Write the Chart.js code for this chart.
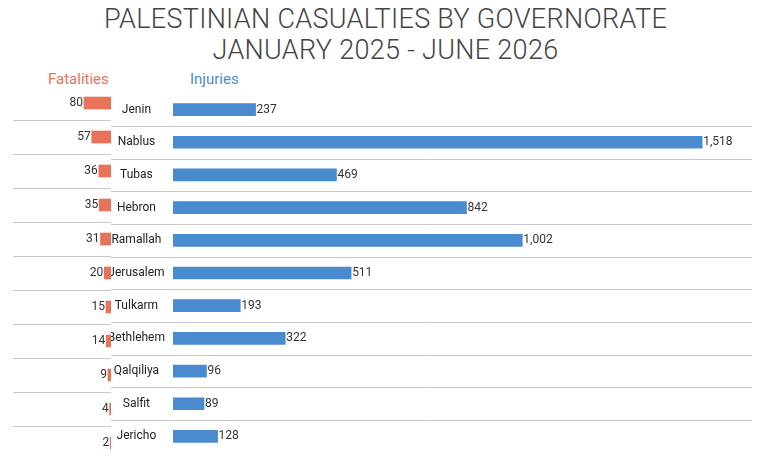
<!DOCTYPE html>
<html><head><meta charset="utf-8">
<script src="https://cdn.jsdelivr.net/npm/chart.js@4/dist/chart.umd.min.js"></script>
<style>
body{margin:0;background:#fff;width:771px;height:465px;position:relative;overflow:hidden;font-family:Roboto,sans-serif}
#t{position:absolute;left:0;width:771px;top:4px;text-align:center;font-size:27px;line-height:31px;color:#444;font-weight:300;letter-spacing:0.3px}
.h{position:absolute;top:70px;font-size:15px}
#l{position:absolute;left:13px;top:86px}
#r{position:absolute;left:111px;top:86px}
</style></head><body>
<div id="t">PALESTINIAN CASUALTIES BY GOVERNORATE<br>JANUARY 2025 - JUNE 2026</div>
<div class="h" style="left:48px;color:#E8735A">Fatalities</div>
<div class="h" style="left:190px;color:#4A8BD0">Injuries</div>
<div id="l"><canvas id="cl" width="98" height="374"></canvas></div>
<div id="r"><canvas id="cr" width="641" height="374"></canvas></div>
<script>
const governorates=["Jenin","Nablus","Tubas","Hebron","Ramallah","Jerusalem","Tulkarm","Bethlehem","Qalqiliya","Salfit","Jericho"];
const fatalities=[80,57,36,35,31,20,15,14,9,4,2];
const injuries=[237,1518,469,842,1002,511,193,322,96,89,128];
const fnt={family:'Roboto',size:12};
function sepPlugin(x0){return {id:'sep',beforeDatasetsDraw(c){const y=c.scales.y,ctx=c.ctx;ctx.save();ctx.strokeStyle='#c8c8c8';ctx.lineWidth=1;
for(let i=0;i<governorates.length-1;i++){const yy=Math.round((y.getPixelForValue(i)+y.getPixelForValue(i+1))/2)+0.5;ctx.beginPath();ctx.moveTo(x0,yy);ctx.lineTo(c.width,yy);ctx.stroke();}ctx.restore();}};}
function lblPlugin(side,fmt){return {id:'lbl',afterDatasetsDraw(c){const ctx=c.ctx;ctx.save();ctx.font='12px Roboto';ctx.fillStyle='#333';ctx.textBaseline='middle';
c.getDatasetMeta(0).data.forEach((b,i)=>{const v=c.data.datasets[0].data[i];if(side==='left'){ctx.textAlign='right';ctx.fillText(fmt(v),b.x-1,b.y);}else{ctx.textAlign='left';ctx.fillText(fmt(v),b.x+1,b.y);}});ctx.restore();}};}
const common={responsive:false,animation:false,indexAxis:'y',plugins:{legend:{display:false},tooltip:{enabled:false}},layout:{padding:0}};
new Chart(document.getElementById('cl'),{type:'bar',data:{labels:governorates,datasets:[{data:fatalities,backgroundColor:'#E8735A',barThickness:12}]},
options:{...common,scales:{x:{reverse:true,min:0,max:290,display:false},y:{display:false}}},plugins:[sepPlugin(0),lblPlugin('left',v=>v)]});
new Chart(document.getElementById('cr'),{type:'bar',data:{labels:governorates,datasets:[{data:injuries,backgroundColor:'#4A8BD0',barThickness:12}]},
options:{...common,scales:{x:{min:0,max:1661,display:false},y:{border:{display:false},grid:{display:false},afterFit(a){a.width=62;},ticks:{crossAlign:'center',padding:0,color:'#222',font:fnt}}}},
plugins:[sepPlugin(0),lblPlugin('right',v=>v.toLocaleString('en-US'))]});
</script></body></html>
